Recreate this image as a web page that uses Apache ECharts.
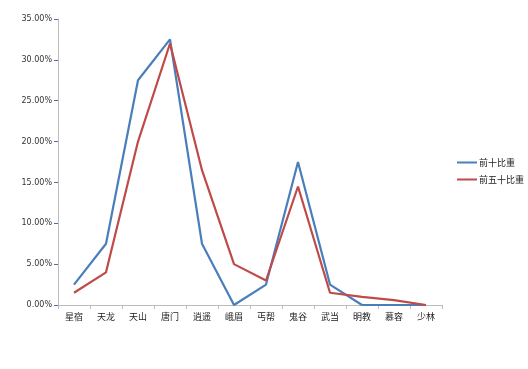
<!DOCTYPE html>
<html><head><meta charset="utf-8">
<script src="https://cdn.jsdelivr.net/npm/echarts@6/dist/echarts.min.js"></script>
<style>html,body{margin:0;padding:0;background:#fff}#c{width:528px;height:369px}</style>
</head><body><div id="c"></div>
<script>
const categories = ['星宿','天龙','天山','唐门','逍遥','峨眉','丐帮','鬼谷','武当','明教','慕容','少林'];
const top10 = [2.5, 7.5, 27.5, 32.5, 7.5, 0, 2.5, 17.5, 2.5, 0, 0, 0];
const top50 = [1.5, 4.0, 20.0, 32.0, 16.5, 5.0, 3.0, 14.5, 1.5, 1.0, 0.6, 0];
const seriesNames = ['前十比重','前五十比重'];
const font = '"Noto Sans CJK SC", sans-serif';
const chart = echarts.init(document.getElementById('c'));
chart.setOption({
  animation:false,
  grid:{left:58,right:86,top:19,bottom:64},
  legend:{orient:'vertical',left:452,top:153,itemWidth:20,itemHeight:2,itemGap:8,icon:'rect',
    textStyle:{fontSize:9,color:'#222',fontFamily:font,padding:[0,0,0,-3]},data:seriesNames},
  xAxis:{type:'category',data:categories,boundaryGap:true,
    axisLine:{lineStyle:{color:'#bbb'}},
    axisTick:{show:true,alignWithLabel:false,length:4,lineStyle:{color:'#bbb'}},
    axisLabel:{fontSize:9,color:'#222',fontFamily:font,margin:7,interval:0}},
  yAxis:{type:'value',min:0,max:35,interval:5,
    axisLine:{show:true,lineStyle:{color:'#bbb'}},
    axisTick:{show:true,length:4,lineStyle:{color:'#4a6fa5'}},
    splitLine:{show:false},
    axisLabel:{fontSize:8,color:'#333',fontFamily:'"DejaVu Sans", sans-serif',margin:6,formatter:v=>v.toFixed(2)+'%'}},
  series:[
    {name:seriesNames[0],type:'line',data:top10,symbol:'none',lineStyle:{width:2.2,color:'#4a7ebb'},itemStyle:{color:'#4a7ebb'}},
    {name:seriesNames[1],type:'line',data:top50,symbol:'none',lineStyle:{width:2.2,color:'#be4b48'},itemStyle:{color:'#be4b48'}}
  ]
});
</script></body></html>
